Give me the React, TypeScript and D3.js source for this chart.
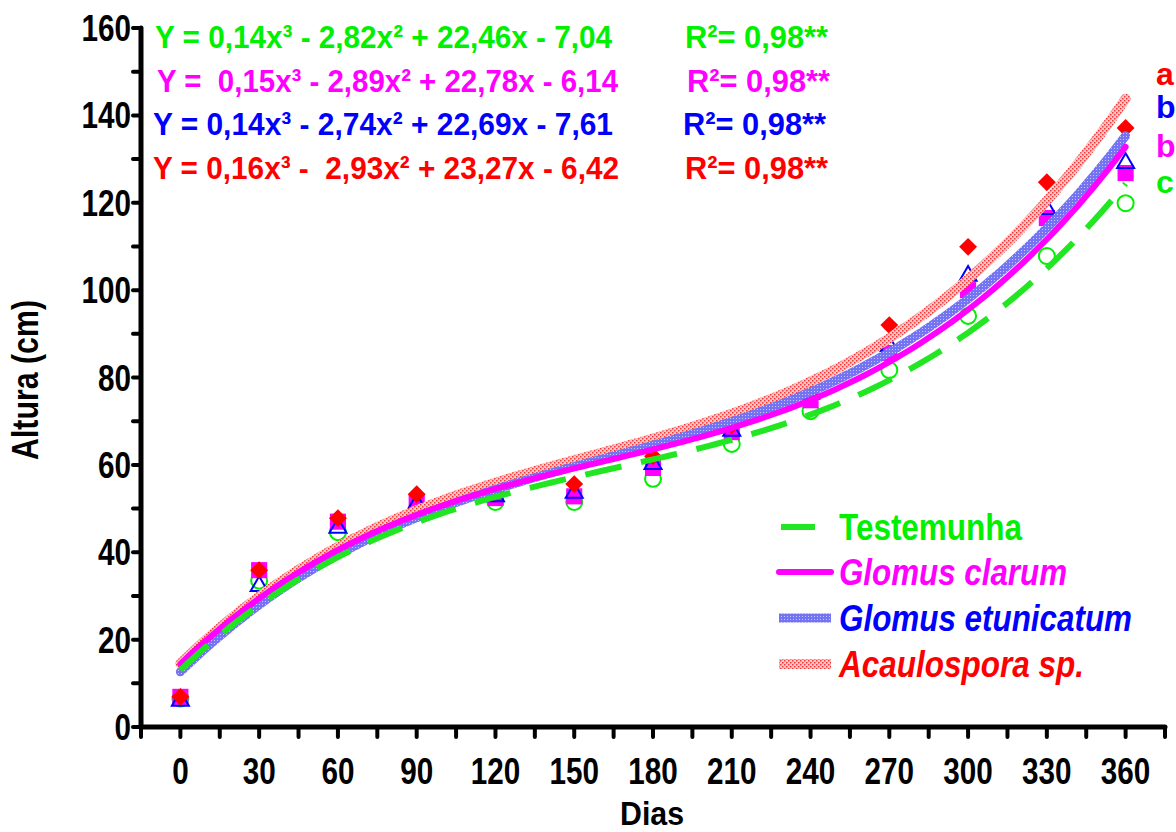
// App.tsx
import React, { useRef, useEffect } from 'react';
import * as d3 from 'd3';

const days = [0, 30, 60, 90, 120, 150, 180, 210, 240, 270, 300, 330, 360];
const testemunha = [6.5, 33.5, 44.6, 49.0, 51.5, 51.5, 56.8, 64.8, 72.3, 81.7, 94.1, 107.8, 119.9];
const glomusClarum = [6.9, 35.9, 47.0, 51.5, 52.4, 52.8, 59.3, 67.5, 74.8, 85.6, 100.0, 116.5, 126.8];
const glomusEtunicatum = [6.2, 32.5, 45.8, 51.3, 53.0, 53.8, 60.4, 68.0, 76.5, 87.4, 103.5, 118.8, 129.3];
const acaulospora = [6.9, 35.9, 47.8, 53.3, 53.8, 55.6, 62.0, 69.1, 76.7, 92.0, 109.9, 124.7, 137.1];

const yTicks = [0, 20, 40, 60, 80, 100, 120, 140, 160];
const equations = [
    'Y = 0,14x³ - 2,82x² + 22,46x - 7,04',
    'Y =  0,15x³ - 2,89x² + 22,78x - 6,14',
    'Y = 0,14x³ - 2,74x² + 22,69x - 7,61',
    'Y = 0,16x³ -  2,93x² + 23,27x - 6,42',
];
const r2Labels = ['R²= 0,98**', 'R²= 0,98**', 'R²= 0,98**', 'R²= 0,98**'];
const letters = ['a', 'b', 'b', 'c'];
const legendNames = ['Testemunha', 'Glomus clarum', 'Glomus etunicatum', 'Acaulospora sp.'];

const FONT = '"Liberation Sans Narrow", "Arial Narrow", "Liberation Sans", Arial, sans-serif';
const GREEN = '#00f000';
const MAGENTA = '#ff00ff';
const BLUE = '#0000ff';
const RED = '#ff0000';

// least squares cubic, like the spreadsheet trend line (x = day/30 + 1)
const fitCubic = (xs: number[], ys: number[]) => {
    const n = 4;
    const A = Array.from({ length: n }, () => new Array(n + 1).fill(0));
    xs.forEach((x, k) => {
        const p = [1, x, x * x, x * x * x];
        for (let i = 0; i < n; i++) {
            for (let j = 0; j < n; j++) A[i][j] += p[i] * p[j];
            A[i][n] += p[i] * ys[k];
        }
    });
    for (let c = 0; c < n; c++) {
        let piv = c;
        for (let r = c + 1; r < n; r++) if (Math.abs(A[r][c]) > Math.abs(A[piv][c])) piv = r;
        [A[c], A[piv]] = [A[piv], A[c]];
        for (let r = 0; r < n; r++) {
            if (r === c) continue;
            const f = A[r][c] / A[c][c];
            for (let k = c; k <= n; k++) A[r][k] -= f * A[c][k];
        }
    }
    const b = A.map((row, i) => row[n] / row[i]);
    return (x: number) => b[0] + b[1] * x + b[2] * x * x + b[3] * x * x * x;
};

const Chart = () => {
    const ref = useRef<SVGSVGElement>(null);

    useEffect(() => {
        const svg = d3.select(ref.current);
        svg.selectAll('*').remove();

        const x = d3.scaleLinear().domain([-15, 375]).range([141, 1165]);
        const y = d3.scaleLinear().domain([0, 160]).range([727, 28]);

        // stroke textures
        const defs = svg.append('defs');
        const redPat = defs.append('pattern').attr('id', 'redPat')
            .attr('patternUnits', 'userSpaceOnUse').attr('width', 4).attr('height', 4);
        redPat.append('rect').attr('width', 4).attr('height', 4).attr('fill', '#fbc4c4');
        redPat.append('rect').attr('x', 0).attr('y', 0).attr('width', 1.5).attr('height', 1.5).attr('fill', '#ee3a3a');
        redPat.append('rect').attr('x', 2).attr('y', 2).attr('width', 1.5).attr('height', 1.5).attr('fill', '#ee3a3a');
        const bluePat = defs.append('pattern').attr('id', 'bluePat')
            .attr('patternUnits', 'userSpaceOnUse').attr('width', 3).attr('height', 3);
        bluePat.append('rect').attr('width', 3).attr('height', 3).attr('fill', '#7474f2');
        bluePat.append('rect').attr('x', 1).attr('y', 1).attr('width', 1).attr('height', 1).attr('fill', '#c4c4ff');

        const series = [
            { name: legendNames[0], values: testemunha, stroke: '#22e622', width: 6, dash: '37 20', shape: 'circle' },
            { name: legendNames[1], values: glomusClarum, stroke: MAGENTA, width: 6, dash: null, shape: 'square' },
            { name: legendNames[2], values: glomusEtunicatum, stroke: 'url(#bluePat)', width: 9, dash: null, shape: 'triangle' },
            { name: legendNames[3], values: acaulospora, stroke: 'url(#redPat)', width: 10, dash: null, shape: 'diamond' },
        ];

        // axes
        const axis = svg.append('g').attr('stroke', '#000').attr('stroke-linecap', 'round');
        axis.append('line').attr('x1', x(-15)).attr('x2', x(375)).attr('y1', y(0)).attr('y2', y(0)).attr('stroke-width', 5);
        axis.append('line').attr('x1', x(-15)).attr('x2', x(-15)).attr('y1', y(0)).attr('y2', y(160)).attr('stroke-width', 5);
        axis.selectAll('.xt').data(d3.range(-15, 376, 15)).enter().append('line')
            .attr('x1', d => x(d)).attr('x2', d => x(d)).attr('y1', y(0)).attr('y2', y(0) + 10).attr('stroke-width', 4);
        axis.selectAll('.yt').data(d3.range(0, 161, 10)).enter().append('line')
            .attr('x1', x(-15) - 8).attr('x2', x(-15)).attr('y1', d => y(d)).attr('y2', d => y(d)).attr('stroke-width', 4);

        const txt = svg.append('g').attr('font-family', FONT).attr('font-weight', 'bold');
        txt.selectAll('.xl').data(days).enter().append('text')
            .attr('x', d => x(d)).attr('y', 784).attr('text-anchor', 'middle').attr('font-size', 36)
            .attr('textLength', d => String(d).length * 16.5).attr('lengthAdjust', 'spacingAndGlyphs').text(d => d);
        txt.selectAll('.yl').data(yTicks).enter().append('text')
            .attr('x', 131).attr('y', d => y(d) + 13).attr('text-anchor', 'end').attr('font-size', 36)
            .attr('textLength', d => String(d).length * 16.5).attr('lengthAdjust', 'spacingAndGlyphs').text(d => d);
        txt.append('text').attr('x', 652).attr('y', 825).attr('text-anchor', 'middle').attr('font-size', 34)
            .attr('textLength', 64).attr('lengthAdjust', 'spacingAndGlyphs').text('Dias');
        txt.append('text').attr('transform', 'translate(38,380) rotate(-90)')
            .attr('text-anchor', 'middle').attr('font-size', 36)
            .attr('textLength', 160).attr('lengthAdjust', 'spacingAndGlyphs').text('Altura (cm)');

        // markers
        const mk = svg.append('g');
        const sq = d3.symbol().type(d3.symbolSquare).size(260)();
        const dia = d3.symbol().type(d3.symbolSquare).size(160)();
        const tri = d3.symbol().type(d3.symbolTriangle).size(125)();
        series.forEach(s => {
            const g = mk.append('g');
            s.values.forEach((v, i) => {
                const px = x(days[i]);
                const py = y(v);
                if (s.shape === 'circle') {
                    g.append('circle').attr('cx', px).attr('cy', py).attr('r', 8)
                        .attr('fill', 'none').attr('stroke', GREEN).attr('stroke-width', 2);
                } else if (s.shape === 'square') {
                    g.append('path').attr('d', sq).attr('transform', `translate(${px},${py})`).attr('fill', MAGENTA);
                } else if (s.shape === 'triangle') {
                    g.append('path').attr('d', tri).attr('transform', `translate(${px},${py + 1})`)
                        .attr('fill', 'none').attr('stroke', BLUE).attr('stroke-width', 2);
                } else {
                    g.append('path').attr('d', dia).attr('transform', `translate(${px},${py}) rotate(45)`).attr('fill', RED);
                }
            });
        });

        // trend lines
        const samples = d3.range(0, 360.01, 3);
        const line = d3.line<number>().x(d => d[0]).y(d => d[1]);
        [3, 2, 1, 0].forEach(k => {
            const s = series[k];
            const f = fitCubic(days.map(d => d / 30 + 1), s.values);
            const pts = samples.map(d => [x(d), y(f(d / 30 + 1))]);
            svg.append('path').attr('d', line(pts as any))
                .attr('fill', 'none').attr('stroke', s.stroke).attr('stroke-width', s.width)
                .attr('stroke-dasharray', s.dash).attr('stroke-linecap', s.dash ? 'butt' : 'round');
        });

        // equations
        const eqColors = [GREEN, MAGENTA, BLUE, RED];
        const eqX = [155, 157, 153, 153];
        const eqLen = [457, 461, 460, 466];
        const eqBase = [48, 92, 135, 179];
        const r2X = [685, 687, 683, 685];
        equations.forEach((e, i) => {
            txt.append('text').attr('x', eqX[i]).attr('y', eqBase[i]).attr('font-size', 32)
                .attr('fill', eqColors[i]).attr('textLength', eqLen[i]).attr('lengthAdjust', 'spacingAndGlyphs')
                .attr('xml:space', 'preserve').style('white-space', 'pre').text(e);
            txt.append('text').attr('x', r2X[i]).attr('y', eqBase[i]).attr('font-size', 32)
                .attr('fill', eqColors[i]).attr('textLength', 143).attr('lengthAdjust', 'spacingAndGlyphs').text(r2Labels[i]);
        });

        // significance letters
        const letterColors = [RED, BLUE, MAGENTA, GREEN];
        const letterBase = [85, 118, 157, 193];
        letters.forEach((l, i) => {
            txt.append('text').attr('x', 1156).attr('y', letterBase[i]).attr('font-size', 32)
                .attr('fill', letterColors[i]).text(l);
        });

        // legend
        const legY = [527, 572, 618, 664];
        const legLen = [183, 228, 293, 245];
        series.forEach((s, i) => {
            svg.append('line')
                .attr('x1', i === 0 ? 781 : 779).attr('x2', i === 0 ? 815 : 831)
                .attr('y1', legY[i]).attr('y2', legY[i])
                .attr('stroke', s.stroke).attr('stroke-width', s.width)
                .attr('stroke-linecap', i === 1 ? 'round' : 'butt');
            txt.append('text').attr('x', 839).attr('y', legY[i] + 13).attr('font-size', 36)
                .attr('font-style', i === 0 ? 'normal' : 'italic')
                .attr('fill', eqColors[i]).attr('textLength', legLen[i]).attr('lengthAdjust', 'spacingAndGlyphs')
                .text(s.name);
        });
    }, []);

    return (
        <svg ref={ref} width={1176} height={832}
            style={{ position: 'absolute', left: 0, top: 0, background: '#fff' }}></svg>
    );
};

export default function App() {
    return <Chart />;
}
